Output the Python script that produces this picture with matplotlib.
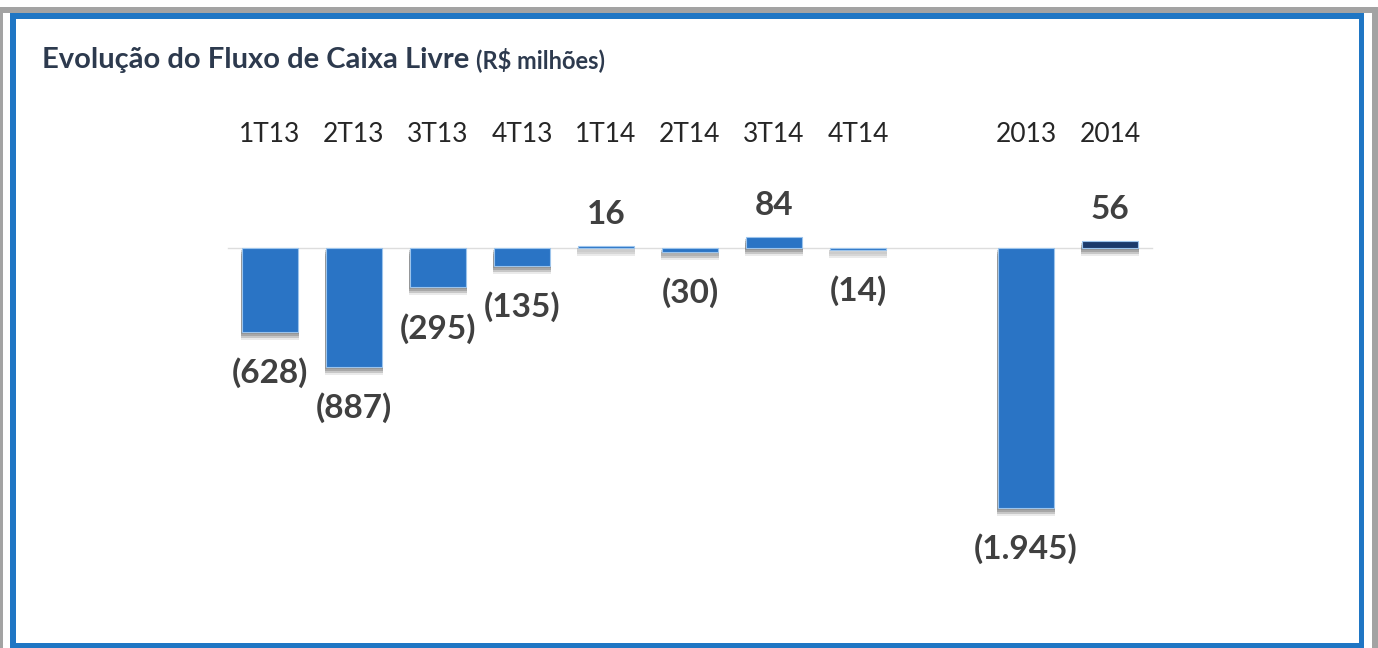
import matplotlib
matplotlib.use("Agg")
import matplotlib.pyplot as plt
from matplotlib.patches import Rectangle
from matplotlib.transforms import offset_copy

# data
categories = ["1T13", "2T13", "3T13", "4T13", "1T14", "2T14", "3T14", "4T14", "2013", "2014"]
positions = [0, 1, 2, 3, 4, 5, 6, 7, 9, 10]
values = [-628, -887, -295, -135, 16, -30, 84, -14, -1945, 56]
bar_colors = ["#2a74c5"] * 9 + ["#1b3a6b"]

W, H = 1378, 648
plt.rcParams["font.family"] = ["Lato", "DejaVu Sans"]

fig = plt.figure(figsize=(W / 100, H / 100), dpi=100)
fig.patch.set_facecolor("white")


# rectangle in pixel coords (from top-left) -> figure fraction
def px_rect(x0, y0, x1, y1, color):
	r = Rectangle((x0 / W, 1 - y1 / H), (x1 - x0) / W, (y1 - y0) / H,
				  transform=fig.transFigure, color=color, lw=0)
	fig.add_artist(r)


# frame: gray outer, blue inner
gray = "#a3a3a3"
blue = "#1f76c4"
px_rect(0, 7, W, 13, gray)
px_rect(0, 7, 3, H, gray)
px_rect(1372, 7, W, H, gray)
px_rect(10, 13, 1364, 19, blue)
px_rect(10, 13, 16, H, blue)
px_rect(1359, 13, 1364, H, blue)
px_rect(10, 643, 1364, H, blue)

# axes placed so bars map to the picture
ax_l, ax_r, ax_t, ax_b = 200, 1200, 150, 600
ax = fig.add_axes([ax_l / W, 1 - ax_b / H, (ax_r - ax_l) / W, (ax_b - ax_t) / H])
ax.set_xlim((ax_l - 270) / 84, (ax_r - 270) / 84)
scale = 0.1337  # px per unit
ax.set_ylim(-(ax_b - 248) / scale, (248 - ax_t) / scale)
for s in ax.spines.values():
	s.set_visible(False)
ax.set_yticks([])
ax.xaxis.tick_top()
ax.set_xticks(positions)
ax.set_xticklabels(categories, fontsize=19, color="#262626")
ax.tick_params(axis="x", length=0, pad=2)

# baseline
ax.plot([-0.5, 10.5], [0, 0], color="#dddddd", lw=1, zorder=1)

# soft drop shadow
for off, a in [(-2, 0.3), (-4, 0.35), (-6, 0.28), (-8, 0.14)]:
	tr = offset_copy(ax.transData, fig=fig, x=0, y=off, units="dots")
	ax.bar(positions, values, width=0.68, color="#6e6e6e", alpha=a,
		   transform=tr, zorder=2, lw=0)

ax.bar(positions, values, width=0.675, color=bar_colors, edgecolor="#9cc4ec",
	   lw=0.8, zorder=3)


def fmt(v):
	s = "{:,}".format(abs(v)).replace(",", ".")
	return "(" + s + ")" if v < 0 else s


for x, v in zip(positions, values):
	dy = -41 if v < 0 else 31
	ax.annotate(fmt(v), xy=(x, v), xytext=(0, dy), textcoords="offset pixels",
				ha="center", va="center", fontsize=24, fontweight="bold",
				color="#404040", zorder=4)

# title
t = fig.text(42 / W, 1 - 68 / H, "Evolução do Fluxo de Caixa Livre", fontsize=21,
			 fontweight="bold", color="#2d3a4e", va="baseline", ha="left")
fig.canvas.draw()
bb = t.get_window_extent()
fig.text((bb.x1 + 7) / W, 1 - 68 / H, "(R$ milhões)", fontsize=17,
		 fontweight="bold", color="#2d3a4e", va="baseline", ha="left")

fig.savefig("out.png", dpi=100)
